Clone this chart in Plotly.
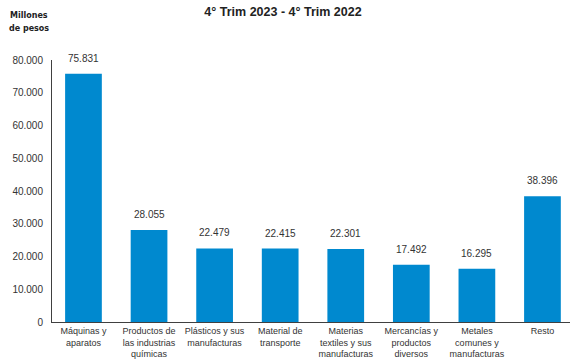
import plotly.graph_objects as go

categories = [
    "Máquinas y<br>aparatos",
    "Productos de<br>las industrias<br>químicas",
    "Plásticos y sus<br>manufacturas",
    "Material de<br>transporte",
    "Materias<br>textiles y sus<br>manufacturas",
    "Mercancías y<br>productos<br>diversos",
    "Metales<br>comunes y<br>manufacturas",
    "Resto",
]
values = [75831, 28055, 22479, 22415, 22301, 17492, 16295, 38396]
value_labels = ["75.831", "28.055", "22.479", "22.415", "22.301", "17.492", "16.295", "38.396"]
y_ticks = [0, 10000, 20000, 30000, 40000, 50000, 60000, 70000, 80000]

W, H = 570, 363
fig = go.Figure(
    go.Bar(
        x=categories,
        y=values,
        marker=dict(color="#0089CF", line=dict(width=0)),
        width=0.56,
        hoverinfo="x+y",
    )
)

annotations = [
    dict(
        x=c, y=v, xref="x", yref="y",
        text=t, showarrow=False,
        yanchor="bottom", yshift=8,
        font=dict(size=10, color="#333333", family="Liberation Sans, Arial"),
    )
    for c, v, t in zip(categories, values, value_labels)
]
annotations += [
    dict(
        text="<b>Millones</b>",
        xref="paper", yref="paper",
        x=(29 - 52) / (W - 52), y=1 + (60 - 15) / (H - 60 - 41),
        xanchor="center", yanchor="middle",
        showarrow=False,
        font=dict(size=8, color="#222222", family="DejaVu Sans"),
    ),
    dict(
        text="<b>de pesos</b>",
        xref="paper", yref="paper",
        x=(29 - 52) / (W - 52), y=1 + (60 - 28) / (H - 60 - 41),
        xanchor="center", yanchor="middle",
        showarrow=False,
        font=dict(size=8, color="#222222", family="DejaVu Sans"),
    ),
]

fig.update_layout(
    width=W,
    height=H,
    margin=dict(l=52, r=0, t=60, b=41, autoexpand=False),
    paper_bgcolor="white",
    plot_bgcolor="white",
    separators=",.",
    showlegend=False,
    font=dict(family="Liberation Sans, Arial", color="#333333"),
    title=dict(
        text="<b>4° Trim 2023 - 4° Trim 2022</b>",
        xref="container", yref="container",
        x=283 / W,
        xanchor="center",
        y=1 - 11.5 / H,
        yanchor="middle",
        font=dict(size=12.5, color="#222222"),
    ),
    annotations=annotations,
)

fig.update_xaxes(
    type="category",
    range=[-0.48, 7.42],
    showline=True,
    linecolor="#404040",
    linewidth=1,
    ticks="",
    tickfont=dict(size=9, color="#333333"),
    showgrid=False,
    automargin=False,
)
fig.update_yaxes(
    range=[0, 80000],
    tickvals=y_ticks,
    tickformat=",",
    showline=True,
    linecolor="#404040",
    linewidth=1,
    ticks="",
    showgrid=False,
    zeroline=False,
    tickfont=dict(size=10, color="#333333"),
    ticklabelstandoff=6,
    automargin=False,
)

fig.write_html(
    "out.html",
    config={"displayModeBar": False},
    post_script="document.body.style.margin='0px'; document.body.style.overflow='hidden';",
)
